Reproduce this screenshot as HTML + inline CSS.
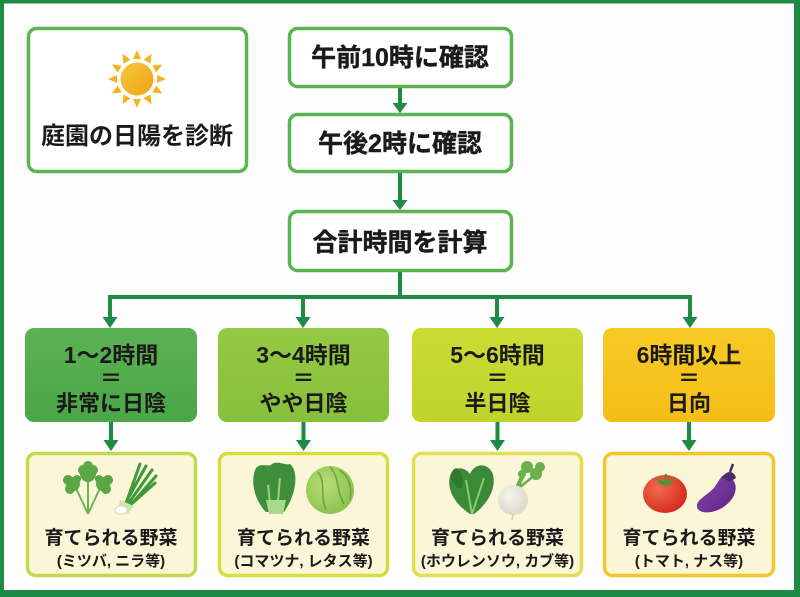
<!DOCTYPE html>
<html lang="ja">
<head>
<meta charset="utf-8">
<style>
  html,body{margin:0;padding:0;background:#fff;}
  body{width:800px;height:597px;overflow:hidden;}
  svg{display:block;}
  text{font-family:"Liberation Sans","Noto Sans CJK JP",sans-serif;font-weight:bold;fill:#1a1a1a;}
</style>
</head>
<body>
<svg width="800" height="597" viewBox="0 0 800 597" xmlns="http://www.w3.org/2000/svg">
  <defs>
    <linearGradient id="sunG" x1="0" y1="0" x2="1" y2="1">
      <stop offset="0" stop-color="#f8c93a"/>
      <stop offset="1" stop-color="#eea21c"/>
    </linearGradient>
    <linearGradient id="c1" x1="0" y1="0" x2="0" y2="1">
      <stop offset="0" stop-color="#5cb252"/>
      <stop offset="1" stop-color="#4aa647"/>
    </linearGradient>
    <linearGradient id="c2" x1="0" y1="0" x2="0" y2="1">
      <stop offset="0" stop-color="#95c944"/>
      <stop offset="1" stop-color="#86c03c"/>
    </linearGradient>
    <linearGradient id="c3" x1="0" y1="0" x2="0" y2="1">
      <stop offset="0" stop-color="#cadb34"/>
      <stop offset="1" stop-color="#bfd42c"/>
    </linearGradient>
    <linearGradient id="c4" x1="0" y1="0" x2="0" y2="1">
      <stop offset="0" stop-color="#f8c925"/>
      <stop offset="1" stop-color="#f4be17"/>
    </linearGradient>
    <radialGradient id="tom" cx="0.35" cy="0.35" r="0.7">
      <stop offset="0" stop-color="#f26a4e"/>
      <stop offset="1" stop-color="#d42c1e"/>
    </radialGradient>
    <linearGradient id="egg" x1="0" y1="0" x2="1" y2="1">
      <stop offset="0" stop-color="#8a45b0"/>
      <stop offset="1" stop-color="#5a2480"/>
    </linearGradient>
    <radialGradient id="cab" cx="0.4" cy="0.4" r="0.7">
      <stop offset="0" stop-color="#b8dd7a"/>
      <stop offset="1" stop-color="#86bf4a"/>
    </radialGradient>
    <radialGradient id="turn" cx="0.4" cy="0.35" r="0.7">
      <stop offset="0" stop-color="#f6f5ee"/>
      <stop offset="1" stop-color="#d8d6c8"/>
    </radialGradient>
  </defs>

  <!-- outer frame -->
  <rect x="0" y="0" width="800" height="597" fill="#fdfdfd"/>
  <rect x="0" y="0" width="800" height="3.5" fill="#1e8a44"/>
  <rect x="0" y="0" width="4" height="597" fill="#1e8a44"/>
  <rect x="794" y="0" width="6" height="597" fill="#1e8a44"/>
  <rect x="0" y="590" width="800" height="7" fill="#1e8a44"/>

  <!-- sun box -->
  <rect x="28.5" y="28.5" width="218" height="143" rx="8" fill="#fff" stroke="#5ab44f" stroke-width="3.5"/>
  <g transform="translate(137,79)">
    <g fill="#f5b41f">
      <polygon points="-4,-20 4,-20 0,-29"/>
      <polygon points="-4,-20 4,-20 0,-29" transform="rotate(30)"/>
      <polygon points="-4,-20 4,-20 0,-29" transform="rotate(60)"/>
      <polygon points="-4,-20 4,-20 0,-29" transform="rotate(90)"/>
      <polygon points="-4,-20 4,-20 0,-29" transform="rotate(120)"/>
      <polygon points="-4,-20 4,-20 0,-29" transform="rotate(150)"/>
      <polygon points="-4,-20 4,-20 0,-29" transform="rotate(180)"/>
      <polygon points="-4,-20 4,-20 0,-29" transform="rotate(210)"/>
      <polygon points="-4,-20 4,-20 0,-29" transform="rotate(240)"/>
      <polygon points="-4,-20 4,-20 0,-29" transform="rotate(270)"/>
      <polygon points="-4,-20 4,-20 0,-29" transform="rotate(300)"/>
      <polygon points="-4,-20 4,-20 0,-29" transform="rotate(330)"/>
    </g>
    <circle r="18.5" fill="#fff"/>
    <circle r="16.5" fill="url(#sunG)"/>
  </g>
  <text x="137" y="144" font-size="24" text-anchor="middle">庭園の日陽を診断</text>

  <!-- top flow boxes -->
  <rect x="289.5" y="28.5" width="222" height="58" rx="8" fill="#fff" stroke="#5ab44f" stroke-width="3.5"/>
  <text x="400" y="66" font-size="25" text-anchor="middle" stroke="#1a1a1a" stroke-width="0.4">午前10時に確認</text>

  <rect x="289.5" y="114.5" width="222" height="57" rx="8" fill="#fff" stroke="#5ab44f" stroke-width="3.5"/>
  <text x="400" y="152" font-size="25" text-anchor="middle" stroke="#1a1a1a" stroke-width="0.4">午後2時に確認</text>

  <rect x="289.5" y="211.5" width="222" height="59" rx="8" fill="#fff" stroke="#5ab44f" stroke-width="3.5"/>
  <text x="400" y="251" font-size="25" text-anchor="middle" stroke="#1a1a1a" stroke-width="0.4">合計時間を計算</text>

  <!-- connectors -->
  <g fill="#1e8a44" stroke="none">
    <rect x="398" y="88" width="4" height="16"/>
    <polygon points="392.5,103 407.5,103 400,113"/>
    <rect x="398" y="173" width="4" height="28"/>
    <polygon points="392.5,200 407.5,200 400,210"/>
    <rect x="398" y="272" width="4" height="27"/>
    <rect x="108" y="295" width="584" height="4"/>

    <rect x="108" y="295" width="4" height="23"/>
    <polygon points="102.5,317 117.5,317 110,328"/>
    <rect x="301" y="295" width="4" height="23"/>
    <polygon points="295.5,317 310.5,317 303,328"/>
    <rect x="495" y="295" width="4" height="23"/>
    <polygon points="489.5,317 504.5,317 497,328"/>
    <rect x="688" y="295" width="4" height="23"/>
    <polygon points="682.5,317 697.5,317 690,328"/>

    <rect x="109" y="422" width="4" height="19"/>
    <polygon points="103.5,440 118.5,440 111,451"/>
    <rect x="301.5" y="422" width="4" height="19"/>
    <polygon points="296,440 311,440 303.5,451"/>
    <rect x="495.5" y="422" width="4" height="19"/>
    <polygon points="490,440 505,440 497.5,451"/>
    <rect x="687" y="422" width="4" height="19"/>
    <polygon points="681.5,440 696.5,440 689,451"/>
  </g>

  <!-- category boxes -->
  <rect x="25" y="328" width="172" height="94" rx="9" fill="url(#c1)"/>
  <text x="111" y="363" font-size="23" text-anchor="middle">1〜2時間</text>
  <text x="111" y="386" font-size="22" text-anchor="middle">＝</text>
  <text x="111" y="411" font-size="22" text-anchor="middle">非常に日陰</text>

  <rect x="218" y="328" width="171" height="94" rx="9" fill="url(#c2)"/>
  <text x="303.5" y="363" font-size="23" text-anchor="middle">3〜4時間</text>
  <text x="303.5" y="386" font-size="22" text-anchor="middle">＝</text>
  <text x="303.5" y="411" font-size="22" text-anchor="middle">やや日陰</text>

  <rect x="412" y="328" width="171" height="94" rx="9" fill="url(#c3)"/>
  <text x="497.5" y="363" font-size="23" text-anchor="middle">5〜6時間</text>
  <text x="497.5" y="386" font-size="22" text-anchor="middle">＝</text>
  <text x="497.5" y="411" font-size="22" text-anchor="middle">半日陰</text>

  <rect x="603" y="328" width="172" height="94" rx="9" fill="url(#c4)"/>
  <text x="689" y="363" font-size="23" text-anchor="middle">6時間以上</text>
  <text x="689" y="386" font-size="22" text-anchor="middle">＝</text>
  <text x="689" y="411" font-size="22" text-anchor="middle">日向</text>

  <!-- vegetable boxes -->
  <rect x="27.5" y="453.5" width="168" height="122" rx="8" fill="#fbf6d8" stroke="#c4d94c" stroke-width="3.5"/>
  <rect x="219.5" y="453.5" width="168" height="122" rx="8" fill="#fbf6d8" stroke="#d6dd40" stroke-width="3.5"/>
  <rect x="413.5" y="453.5" width="168" height="122" rx="8" fill="#fbf6d8" stroke="#e3df50" stroke-width="3.5"/>
  <rect x="604.5" y="453.5" width="169" height="122" rx="8" fill="#fbf6d8" stroke="#f2c72c" stroke-width="3.5"/>

  <!-- parsley (mitsuba) -->
  <g>
    <path d="M88,514 L75,486 M88,514 L88,478 M88,514 L101,486" stroke="#6cb54e" stroke-width="2" fill="none"/>
    <g fill="#5aa845">
      <circle cx="88" cy="474" r="8"/><circle cx="83" cy="470" r="5"/><circle cx="93" cy="470" r="5"/><circle cx="88" cy="466" r="5"/>
      <circle cx="73" cy="484" r="7"/><circle cx="68" cy="480" r="5"/><circle cx="70" cy="489" r="5"/><circle cx="77" cy="479" r="4"/>
      <circle cx="103" cy="484" r="7"/><circle cx="108" cy="480" r="5"/><circle cx="106" cy="489" r="5"/><circle cx="99" cy="479" r="4"/>
    </g>
  </g>
  <!-- green onion (nira) -->
  <g>
    <path d="M124,506 L146,466 M126,507 L152,470 M128,508 L156,476 M125,506 L140,464 M127,508 L155,483" stroke="#3f9a3c" stroke-width="3" fill="none" stroke-linecap="round"/>
    <path d="M120,500 L134,506 L128,514 L118,511 Z" fill="#cfe6b0"/>
    <ellipse cx="121" cy="510" rx="6" ry="4" fill="#fff" stroke="#d8d8d0" stroke-width="1"/>
  </g>

  <!-- komatsuna -->
  <g>
    <path d="M266,512 C254,500 250,480 256,468 C262,462 268,468 272,464 C278,460 286,466 290,464 C298,470 298,492 284,512 Z" fill="#3e8e3b"/>
    <path d="M271,512 L268,485 M277,512 L280,478" stroke="#9dd07a" stroke-width="2" fill="none"/>
    <path d="M266,500 L286,500 L283,514 L269,514 Z" fill="#a9d98a"/>
  </g>
  <!-- cabbage -->
  <g>
    <circle cx="330" cy="490" r="24" fill="url(#cab)"/>
    <path d="M330,467 C340,478 336,490 344,504 M318,472 C326,482 320,496 326,510 M340,470 C350,478 352,488 350,500" stroke="#6fa23c" stroke-width="1.5" fill="none"/>
  </g>

  <!-- spinach -->
  <g>
    <path d="M470,514 C458,506 446,492 450,476 C454,466 464,466 470,474 C474,464 486,462 492,472 C498,486 488,504 474,514 Z" fill="#3b8a38"/>
    <path d="M458,488 C450,482 448,472 456,468 C462,470 464,480 462,488 Z" fill="#2f7a30"/>
    <path d="M472,514 L466,480 M472,514 L484,478" stroke="#8cc870" stroke-width="2" fill="none"/>
  </g>
  <!-- turnip -->
  <g>
    <path d="M516,488 L524,470 M519,488 L536,474 M518,488 L530,462" stroke="#6aad4a" stroke-width="2.5" fill="none"/>
    <circle cx="527" cy="467" r="6" fill="#6bb04a"/><circle cx="536" cy="474" r="6" fill="#6bb04a"/><circle cx="540" cy="467" r="5" fill="#6bb04a"/><circle cx="522" cy="474" r="4" fill="#6bb04a"/>
    <circle cx="513" cy="500" r="15" fill="url(#turn)"/>
    <path d="M513,514 L512,520" stroke="#cfcdbf" stroke-width="1.5"/>
  </g>

  <!-- tomato -->
  <g>
    <ellipse cx="665" cy="494" rx="22" ry="19" fill="url(#tom)"/>
    <path d="M655,478 L665,482 L675,478 L670,484 L665,486 L660,484 Z" fill="#3d9a3a"/>
    <path d="M665,482 L666,474" stroke="#3d9a3a" stroke-width="2"/>
  </g>
  <!-- eggplant -->
  <g>
    <path d="M728,476 C740,482 738,498 722,508 C712,514 698,514 697,507 C696,500 706,496 714,488 C720,480 722,472 728,476 Z" fill="url(#egg)"/>
    <path d="M722,478 C726,470 734,470 736,478 L730,482 Z" fill="#4a2a6a"/>
    <path d="M730,472 L733,464" stroke="#4a2a6a" stroke-width="2.5"/>
  </g>

  <!-- vegetable texts -->
  <text x="111" y="544" font-size="19" text-anchor="middle">育てられる野菜</text>
  <text x="111" y="566" font-size="15" text-anchor="middle">(ミツバ, ニラ等)</text>

  <text x="303.5" y="544" font-size="19" text-anchor="middle">育てられる野菜</text>
  <text x="303.5" y="566" font-size="15" text-anchor="middle">(コマツナ, レタス等)</text>

  <text x="497.5" y="544" font-size="19" text-anchor="middle">育てられる野菜</text>
  <text x="497.5" y="566" font-size="15" text-anchor="middle">(ホウレンソウ, カブ等)</text>

  <text x="689" y="544" font-size="19" text-anchor="middle">育てられる野菜</text>
  <text x="689" y="566" font-size="15" text-anchor="middle">(トマト, ナス等)</text>
</svg>
</body>
</html>
